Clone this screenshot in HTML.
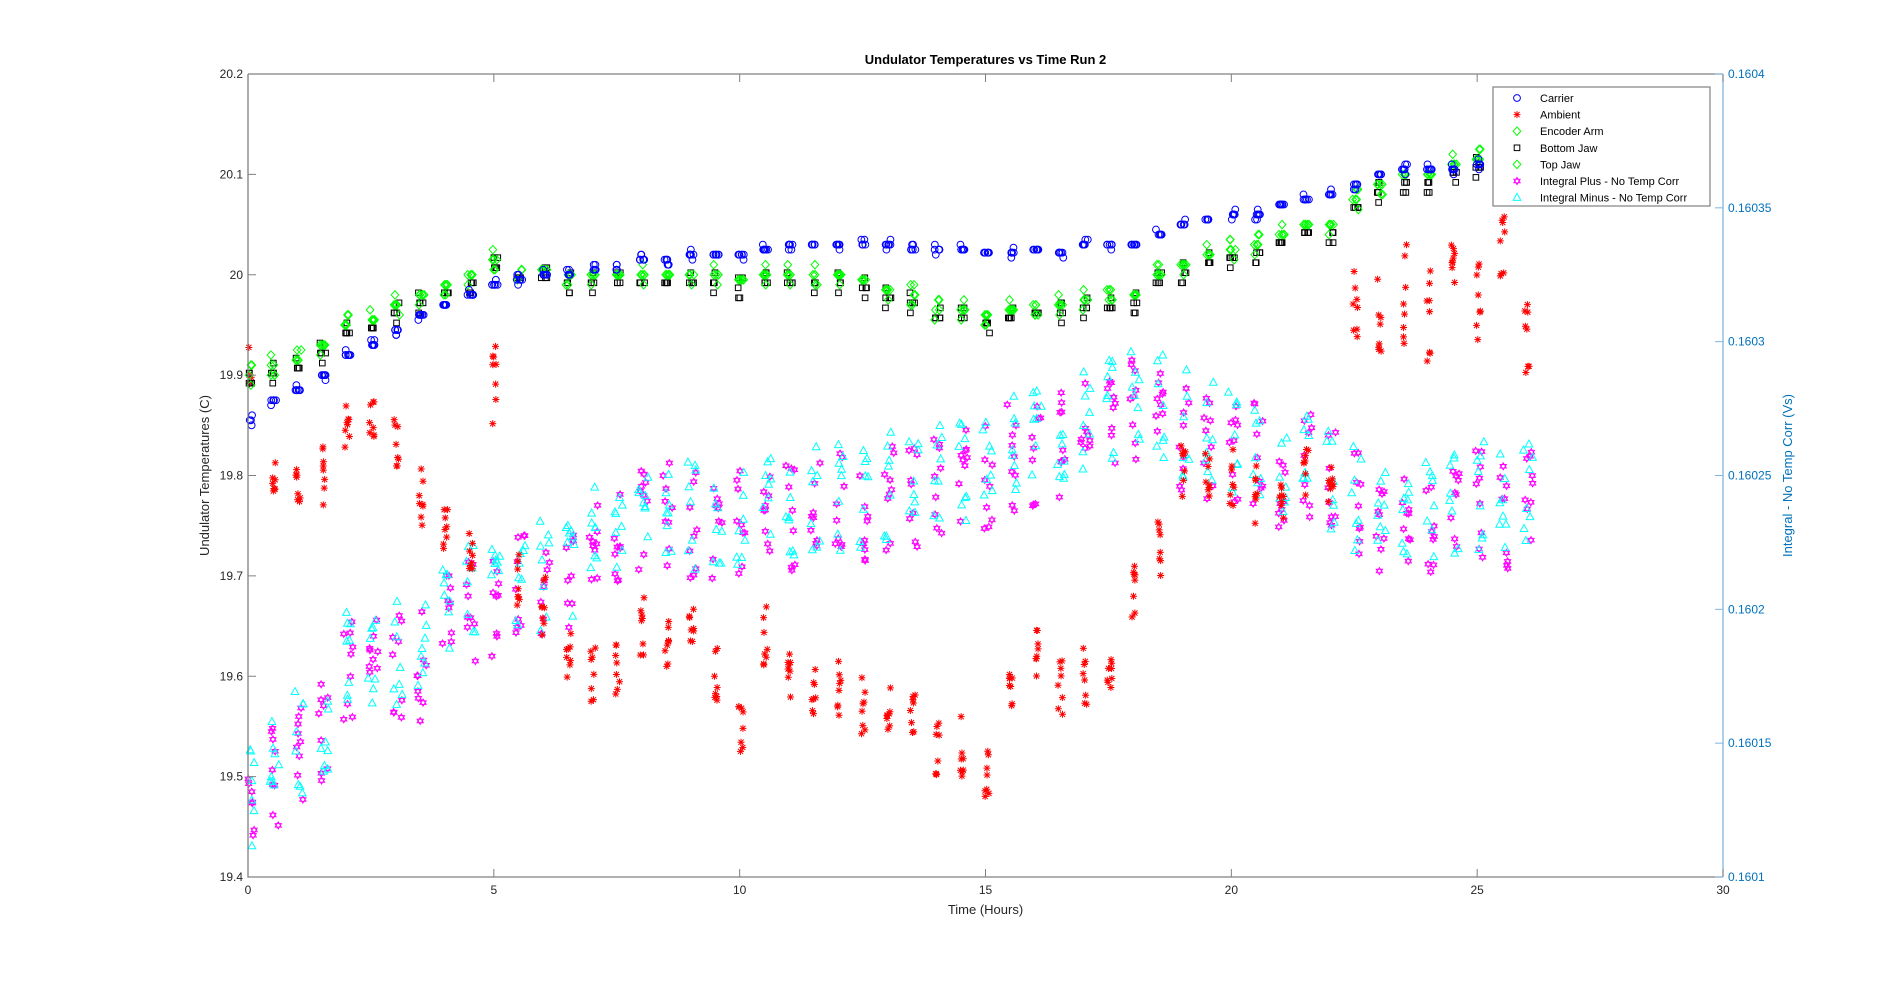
<!DOCTYPE html>
<html><head><meta charset="utf-8">
<style>
html,body{margin:0;padding:0;background:#fff;}
svg{display:block;font-family:"Liberation Sans",Arial,sans-serif;}
</style></head>
<body>
<svg id="s" width="1904" height="987" xmlns="http://www.w3.org/2000/svg">
<rect width="1904" height="987" fill="#fff"/>
<g id="pts"></g>
<g id="ax"></g>
</svg>
<script>
const L=248,R=1723,T=74,B=877;
const X=h=>L+h*(R-L)/30, Y=v=>B-(v-19.4)*(B-T)/0.8;
let seed=7;const rnd=()=>{seed=(seed*16807)%2147483647;return seed/2147483647;};
const pts=document.getElementById('pts'),ax=document.getElementById('ax');
let html='';
function circ(x,y,c){html+=`<circle cx="${x}" cy="${y}" r="3.4" fill="none" stroke="${c}" stroke-width="1"/>`;}
function dia(x,y,c){html+=`<path d="M${x} ${y-4.2}L${x+3.8} ${y}L${x} ${y+4.2}L${x-3.8} ${y}Z" fill="none" stroke="${c}" stroke-width="1"/>`;}
function sq(x,y,c){html+=`<rect x="${x-2.8}" y="${y-2.8}" width="5.6" height="5.6" fill="none" stroke="${c}" stroke-width="1"/>`;}
function star(x,y,c){html+=`<path d="M${x-3.5} ${y}H${x+3.5}M${x} ${y-3.5}V${y+3.5}M${x-2.6} ${y-2.6}L${x+2.6} ${y+2.6}M${x-2.6} ${y+2.6}L${x+2.6} ${y-2.6}" stroke="${c}" stroke-width="1"/>`;}
function hex(x,y,c){html+=`<path d="M${x} ${y-3.6}L${x+3.2} ${y+1.8}L${x-3.2} ${y+1.8}ZM${x} ${y+3.6}L${x+3.2} ${y-1.8}L${x-3.2} ${y-1.8}Z" fill="none" stroke="${c}" stroke-width="0.9"/>`;}
function tri(x,y,c){html+=`<path d="M${x} ${y-4.2}L${x+3.8} ${y+2.8}L${x-3.8} ${y+2.8}Z" fill="none" stroke="${c}" stroke-width="1"/>`;}
const car=[19.855,19.875,19.885,19.90,19.92,19.93,19.945,19.96,19.97,19.98,19.99,19.995,20.0,20.0,20.005,20.005,20.015,20.015,20.02,20.02,20.02,20.025,20.03,20.03,20.03,20.03,20.03,20.025,20.025,20.025,20.022,20.022,20.025,20.022,20.03,20.03,20.03,20.04,20.05,20.055,20.06,20.06,20.07,20.075,20.08,20.09,20.10,20.105,20.105,20.105,20.11,20.11];
const grn=[19.9,19.91,19.915,19.93,19.95,19.955,19.97,19.98,19.99,20.0,20.015,20.005,20.005,20.0,20.0,20.0,20.0,20.0,20.0,20.0,19.995,20.0,20.0,20.0,20.0,19.995,19.985,19.98,19.965,19.965,19.96,19.965,19.97,19.97,19.975,19.975,19.98,20.0,20.01,20.02,20.025,20.03,20.04,20.05,20.05,20.075,20.09,20.1,20.1,20.11,20.115,20.115];
const amb=[19.9,19.8,19.78,19.8,19.84,19.86,19.83,19.78,19.75,19.72,19.88,19.7,19.67,19.62,19.6,19.61,19.65,19.63,19.64,19.6,19.55,19.64,19.6,19.59,19.59,19.57,19.56,19.57,19.53,19.53,19.5,19.58,19.62,19.59,19.6,19.6,19.68,19.73,19.8,19.8,19.8,19.78,19.78,19.81,19.8,19.98,19.97,19.98,19.96,20.0,19.98,20.01,19.93];
const ip=[19.47,19.5,19.52,19.55,19.6,19.61,19.61,19.61,19.65,19.67,19.67,19.69,19.69,19.7,19.73,19.74,19.75,19.76,19.75,19.74,19.75,19.76,19.76,19.77,19.77,19.77,19.78,19.78,19.79,19.8,19.8,19.82,19.82,19.83,19.84,19.86,19.87,19.86,19.84,19.83,19.82,19.82,19.8,19.81,19.79,19.77,19.75,19.75,19.75,19.76,19.77,19.76,19.78];
for(let i=0;i<ip.length;i++){const h=i*0.5;
 for(let k=0;k<9;k++){const t=h+(rnd()-0.3)*0.2;if(t<0||t>26.3)continue;hex(X(t),Y(ip[i]+(rnd()-0.5)*0.11),'#ff00ff');}
 for(let k=0;k<8;k++){const t=h+(rnd()-0.3)*0.2;if(t<0||t>26.3)continue;tri(X(t),Y(ip[i]+0.01+(rnd()-0.5)*0.11),'#00ffff');}
}
for(let i=0;i<amb.length;i++){const h=i*0.5;const sp=(i==10||i==0||i>=45)?0.1:0.06;
 for(let k=0;k<8;k++){const t=h+(rnd()-0.3)*0.1;if(t<0||t>26.3)continue;star(X(t),Y(amb[i]+(rnd()-0.5)*sp),'#ff0000');}}
for(let i=0;i<grn.length;i++){const h=i*0.5;if(h>25.3)break;
 for(let k=0;k<5;k++){const t=h+(rnd()-0.3)*0.12;if(t<0)continue;const v=grn[i]+Math.round((rnd()-0.5)*1.4)*0.01;sq(X(t),Y(v-0.008),'#000');}
 for(let k=0;k<6;k++){const t=h+(rnd()-0.3)*0.12;if(t<0)continue;const v=grn[i]+Math.round((rnd()-0.5)*1.4)*0.01;dia(X(t),Y(v),'#00ff00');}}
for(let i=0;i<car.length;i++){const h=i*0.5;if(h>25.3)break;
 for(let k=0;k<7;k++){const t=h+(rnd()-0.3)*0.12;if(t<0)continue;circ(X(t),Y(car[i]+Math.round((rnd()-0.5)*1.2)*0.005),'#0000ff');}}
let a='';
a+=`<path d="M${L} ${T}H${R}M${L} ${T}V${B}H${R}" fill="none" stroke="#808080" stroke-width="1.3"/>`;
a+=`<path d="M${R} ${T}V${B}" stroke="#7fb6df" stroke-width="1.3"/>`;
for(let i=0;i<=6;i++){const x=X(i*5);a+=`<path d="M${x} ${B}v-8M${x} ${T}v8" stroke="#808080"/>`;
 a+=`<text x="${x}" y="${B+17}" font-size="12" text-anchor="middle" fill="#262626">${i*5}</text>`;}
for(let i=0;i<=8;i++){const v=19.4+i*0.1,y=Y(v);a+=`<path d="M${L} ${y}h8" stroke="#808080"/>`;
 a+=`<text x="${L-5}" y="${y+4}" font-size="12" text-anchor="end" fill="#262626">${(Math.round(v*10)/10).toString()}</text>`;}
const rl=['0.1601','0.16015','0.1602','0.16025','0.1603','0.16035','0.1604'];
for(let i=0;i<=6;i++){const y=B-i*(B-T)/6;a+=`<path d="M${R} ${y}h-8" stroke="#7fb6df"/>`;
 a+=`<text x="${R+5}" y="${y+4}" font-size="12" fill="#0072bd">${rl[i]}</text>`;}
a+=`<text x="${(L+R)/2}" y="64" font-size="13" font-weight="bold" text-anchor="middle" fill="#000">Undulator Temperatures vs Time Run 2</text>`;
a+=`<text x="${(L+R)/2}" y="914" font-size="13" text-anchor="middle" fill="#262626">Time (Hours)</text>`;
a+=`<text transform="translate(209,${(T+B)/2}) rotate(-90)" font-size="13" text-anchor="middle" fill="#262626">Undulator Temperatures (C)</text>`;
a+=`<text transform="translate(1792,${(T+B)/2}) rotate(-90)" font-size="13" text-anchor="middle" fill="#0072bd">Integral -  No Temp Corr (Vs)</text>`;
a+=`<rect x="1493" y="87" width="217" height="119" fill="#fff" stroke="#808080" stroke-width="1.2"/>`;
pts.innerHTML=html;
html='';
const leg=[['Carrier',circ,'#0000ff'],['Ambient',star,'#ff0000'],['Encoder Arm',dia,'#00ff00'],['Bottom Jaw',sq,'#000'],['Top Jaw',dia,'#00ff00'],['Integral Plus -  No Temp Corr',hex,'#ff00ff'],['Integral Minus -  No Temp Corr',tri,'#00ffff']];
leg.forEach((l,i)=>{const y=98+i*16.6;l[1](1517,y,l[2]);a+=`<text x="1540" y="${y+4}" font-size="11" fill="#000">${l[0]}</text>`;});
ax.innerHTML=a+html;
</script>
</body></html>
